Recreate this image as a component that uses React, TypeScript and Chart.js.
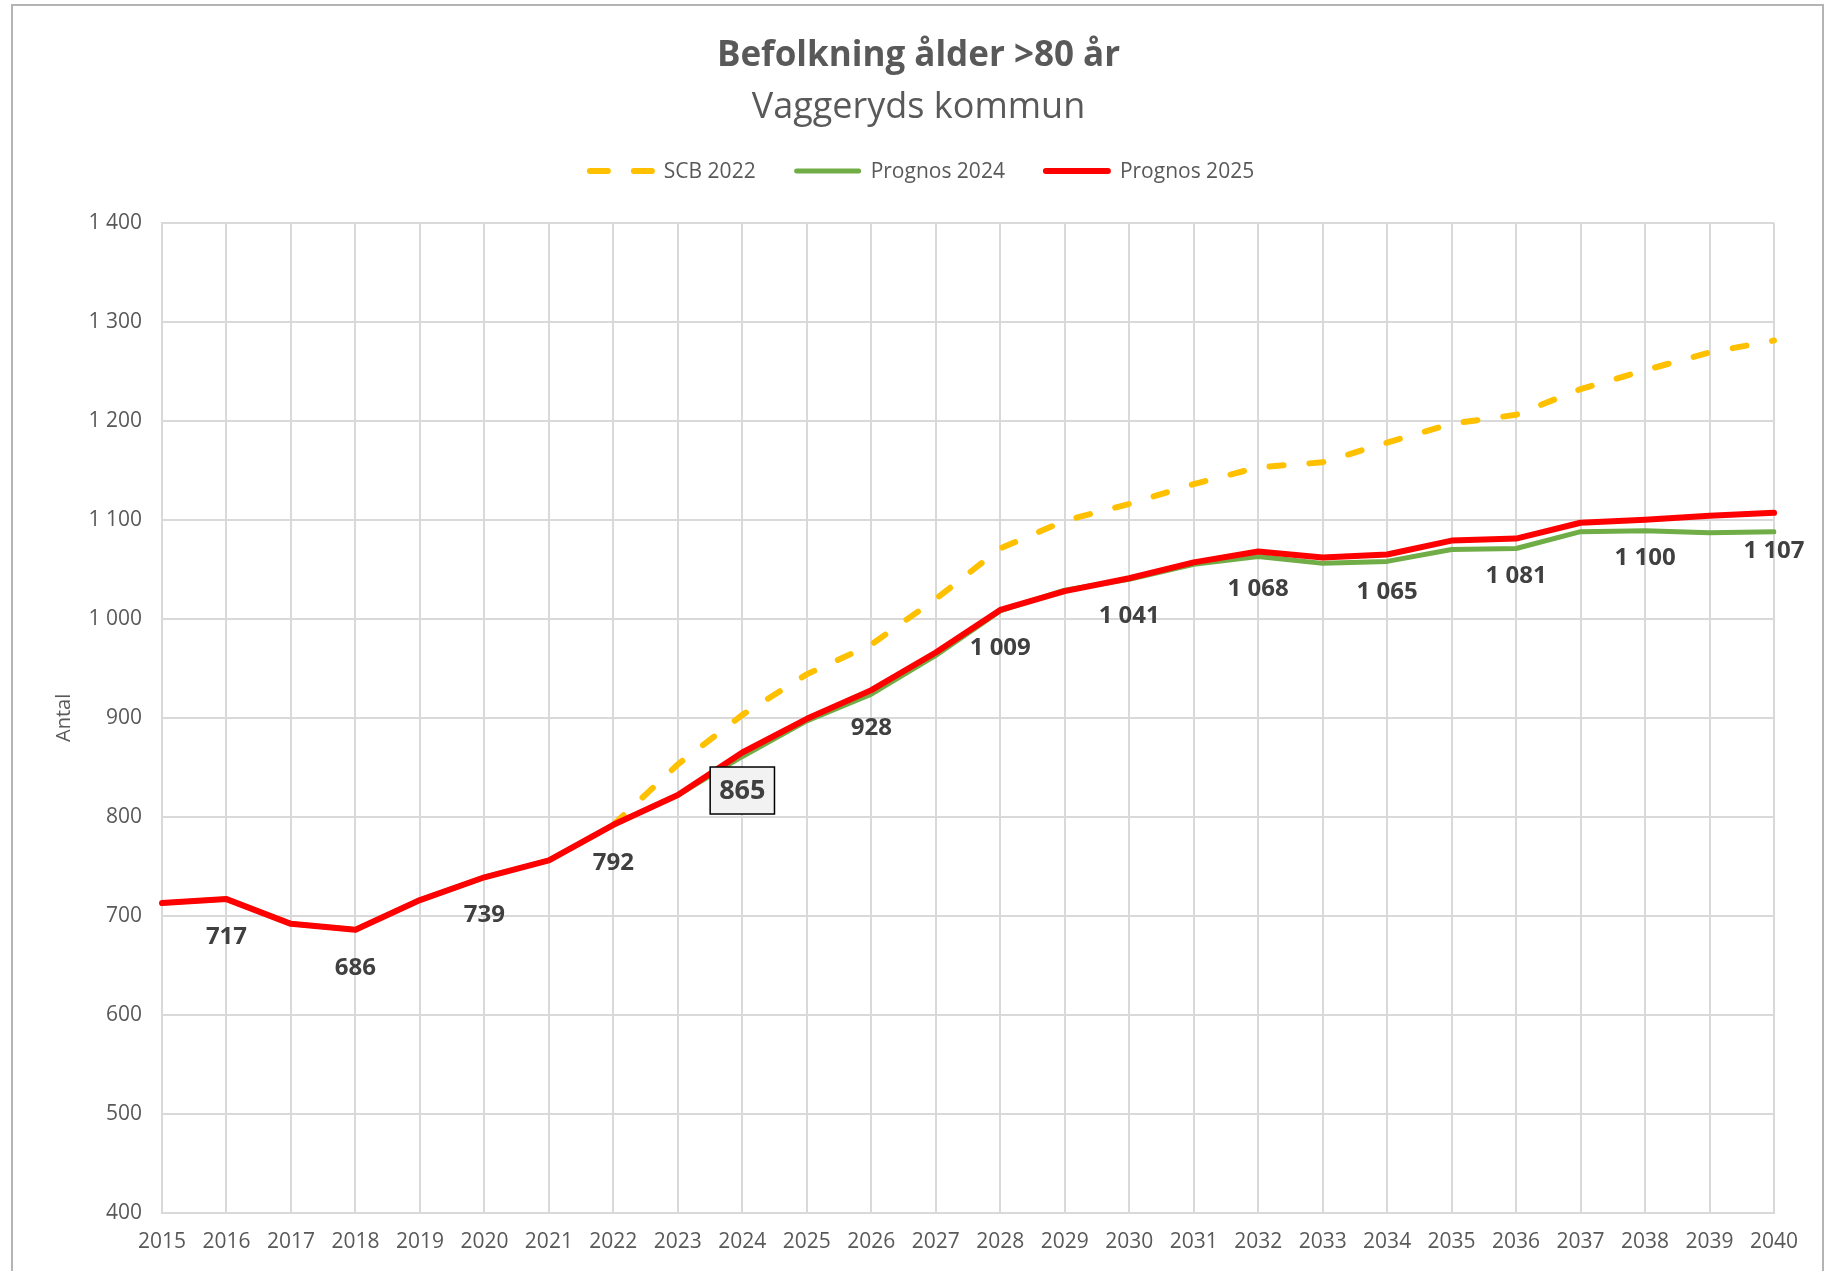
import React, { useEffect, useRef } from 'react';
import { Chart, registerables } from 'chart.js';

Chart.register(...registerables);

const years = [
  '2015', '2016', '2017', '2018', '2019', '2020', '2021', '2022', '2023', '2024', '2025', '2026', '2027',
  '2028', '2029', '2030', '2031', '2032', '2033', '2034', '2035', '2036', '2037', '2038', '2039', '2040',
];

const scb2022 = [
  null, null, null, null, null, null, null, 792, 853, 903, 944, 974, 1020,
  1071, 1099, 1116, 1136, 1153, 1158, 1178, 1197, 1206, 1232, 1251, 1269, 1281,
];

const prognos2024 = [
  713, 717, 692, 686, 716, 739, 756, 792, 822, 861, 897, 924, 963,
  1008, 1029, 1040, 1055, 1063, 1056, 1058, 1070, 1071, 1088, 1089, 1087, 1088,
];

const prognos2025 = [
  713, 717, 692, 686, 716, 739, 756, 792, 822, 865, 899, 928, 966,
  1009, 1028, 1041, 1057, 1068, 1062, 1065, 1079, 1081, 1097, 1100, 1104, 1107,
];

const labelledYears = ['2016', '2018', '2020', '2022', '2024', '2026', '2028', '2030', '2032', '2034', '2036', '2038', '2040'];
const highlightYear = '2024';

const yTicks = [400, 500, 600, 700, 800, 900, 1000, 1100, 1200, 1300, 1400];

const FONT = "'Open Sans', 'DejaVu Sans', sans-serif";
const GREY = '#595959';

function fmt(v: number): string {
  if (v >= 1000) {
    return `${Math.floor(v / 1000)} ${String(v % 1000).padStart(3, '0')}`;
  }
  return String(v);
}

const valueLabelPlugin = {
  id: 'valueLabels',
  afterDatasetsDraw(chart: any) {
    const ctx = chart.ctx;
    const di = chart.data.datasets.findIndex((d: any) => d.label === 'Prognos 2025');
    const meta = chart.getDatasetMeta(di);
    ctx.save();
    ctx.textAlign = 'center';
    ctx.textBaseline = 'middle';
    labelledYears.forEach((yr) => {
      const i = years.indexOf(yr);
      const pt = meta.data[i];
      if (!pt) return;
      const text = fmt(prognos2025[i]);
      const isHi = yr === highlightYear;
      const size = isHi ? 27 : 24;
      ctx.font = `bold ${size}px ${FONT}`;
      const x = pt.x;
      const y = pt.y + (isHi ? 38 : 37);
      if (isHi) {
        const w = ctx.measureText(text).width + 18;
        const h = 47;
        ctx.fillStyle = '#f2f2f2';
        ctx.fillRect(x - w / 2, y - h / 2, w, h);
        ctx.lineWidth = 1.5;
        ctx.strokeStyle = '#000000';
        ctx.strokeRect(x - w / 2, y - h / 2, w, h);
      }
      ctx.fillStyle = '#404040';
      ctx.fillText(text, x, y + 1);
    });
    ctx.restore();
  },
};

const customLegendPlugin = {
  id: 'customLegend',
  afterDraw(chart: any) {
    const ctx = chart.ctx;
    const items = chart.data.datasets.map((d: any) => ({
      label: d.label as string,
      color: d.borderColor as string,
      dash: (d.legendDash || []) as number[],
      width: d.borderWidth as number,
    }));
    const lineLen = 62;
    const gapLineText = 12;
    const gapItems = 41;
    const cy = 171;
    ctx.save();
    ctx.font = `21px ${FONT}`;
    ctx.textBaseline = 'middle';
    ctx.textAlign = 'left';
    const widths = items.map((it: any) => ctx.measureText(it.label).width);
    let total = 0;
    items.forEach((_: any, i: number) => {
      total += lineLen + gapLineText + widths[i];
    });
    total += gapItems * (items.length - 1);
    let x = 922 - total / 2;
    items.forEach((it: any, i: number) => {
      ctx.beginPath();
      ctx.setLineDash(it.dash);
      ctx.lineCap = 'round';
      ctx.lineWidth = it.width;
      ctx.strokeStyle = it.color;
      ctx.moveTo(x, cy);
      ctx.lineTo(x + lineLen, cy);
      ctx.stroke();
      ctx.setLineDash([]);
      x += lineLen + gapLineText;
      ctx.fillStyle = GREY;
      ctx.fillText(it.label, x, cy + 1);
      x += widths[i] + gapItems;
    });
    ctx.restore();
  },
};

export default function App() {
  const canvasRef = useRef<HTMLCanvasElement | null>(null);

  useEffect(() => {
    const canvas = canvasRef.current;
    if (!canvas) return;
    const chart = new Chart(canvas, {
      type: 'line',
      data: {
        labels: years,
        datasets: [
          {
            label: 'SCB 2022',
            data: scb2022,
            borderColor: '#FFC000',
            backgroundColor: '#FFC000',
            borderWidth: 6,
            borderDash: [14, 26],
            borderCapStyle: 'round',
            borderJoinStyle: 'round',
            pointRadius: 0,
            tension: 0,
            order: 3,
            legendDash: [18, 26],
          } as any,
          {
            label: 'Prognos 2024',
            data: prognos2024,
            borderColor: '#70AD47',
            backgroundColor: '#70AD47',
            borderWidth: 5,
            borderCapStyle: 'round',
            borderJoinStyle: 'round',
            pointRadius: 0,
            tension: 0,
            order: 2,
          } as any,
          {
            label: 'Prognos 2025',
            data: prognos2025,
            borderColor: '#FF0000',
            backgroundColor: '#FF0000',
            borderWidth: 6,
            borderCapStyle: 'round',
            borderJoinStyle: 'round',
            pointRadius: 0,
            tension: 0,
            order: 1,
          } as any,
        ],
      },
      options: {
        responsive: false,
        animation: false,
        layout: { padding: { left: 12, right: 6, top: 0, bottom: 18 } },
        plugins: {
          legend: { display: false },
          tooltip: { enabled: false },
          title: {
            display: true,
            text: 'Befolkning ålder >80 år',
            color: GREY,
            font: { family: FONT, size: 35, weight: 'bold', lineHeight: 1.2 },
            padding: { top: 35, bottom: 0 },
          },
          subtitle: {
            display: true,
            text: 'Vaggeryds kommun',
            color: GREY,
            font: { family: FONT, size: 36, weight: 'normal', lineHeight: 1.2 },
            padding: { top: 9, bottom: 93.5 },
          },
        },
        scales: {
          x: {
            type: 'category',
            offset: false,
            grid: { display: true, color: '#d9d9d9', lineWidth: 2, drawTicks: false, offset: false },
            border: { display: true, color: '#d9d9d9', width: 2 },
            ticks: {
              color: GREY,
              font: { family: FONT, size: 21, lineHeight: 1.2 },
              padding: 16,
              maxRotation: 0,
              autoSkip: false,
            },
            afterFit(s: any) {
              s.height = 40;
            },
          },
          y: {
            type: 'linear',
            position: 'left',
            min: 400,
            max: 1400,
            afterBuildTicks(s: any) {
              s.ticks = yTicks.map((v) => ({ value: v }));
            },
            grid: { color: '#d9d9d9', lineWidth: 2, drawTicks: false },
            border: { display: true, color: '#d9d9d9', width: 2 },
            ticks: {
              color: GREY,
              font: { family: FONT, size: 21, lineHeight: 1.2 },
              padding: 20,
              callback: (v: any) => fmt(Number(v)),
            },
            title: {
              display: true,
              text: 'Antal',
              color: GREY,
              font: { family: FONT, size: 20, lineHeight: 1.2 },
              padding: { top: 40, bottom: 0 },
            },
            afterFit(s: any) {
              s.width = 150;
            },
          },
          yRight: {
            type: 'linear',
            position: 'right',
            display: true,
            grid: { display: false, drawOnChartArea: false, drawTicks: false },
            border: { display: false },
            ticks: { display: false },
            afterFit(s: any) {
              s.width = 51;
            },
          },
        },
      } as any,
      plugins: [valueLabelPlugin, customLegendPlugin],
    });
    return () => chart.destroy();
  }, []);

  return (
    <div
      style={{
        position: 'fixed',
        left: 0,
        top: 0,
        width: 1831,
        height: 1271,
        overflow: 'hidden',
        background: '#ffffff',
      }}
    >
      <div
        style={{
          position: 'absolute',
          left: 11,
          top: 4,
          width: 1813,
          height: 1320,
          border: '2px solid #b4b4b4',
          boxSizing: 'border-box',
        }}
      />
      <canvas
        ref={canvasRef}
        width={1831}
        height={1271}
        style={{ position: 'absolute', left: 0, top: 0, display: 'block' }}
      />
    </div>
  );
}
